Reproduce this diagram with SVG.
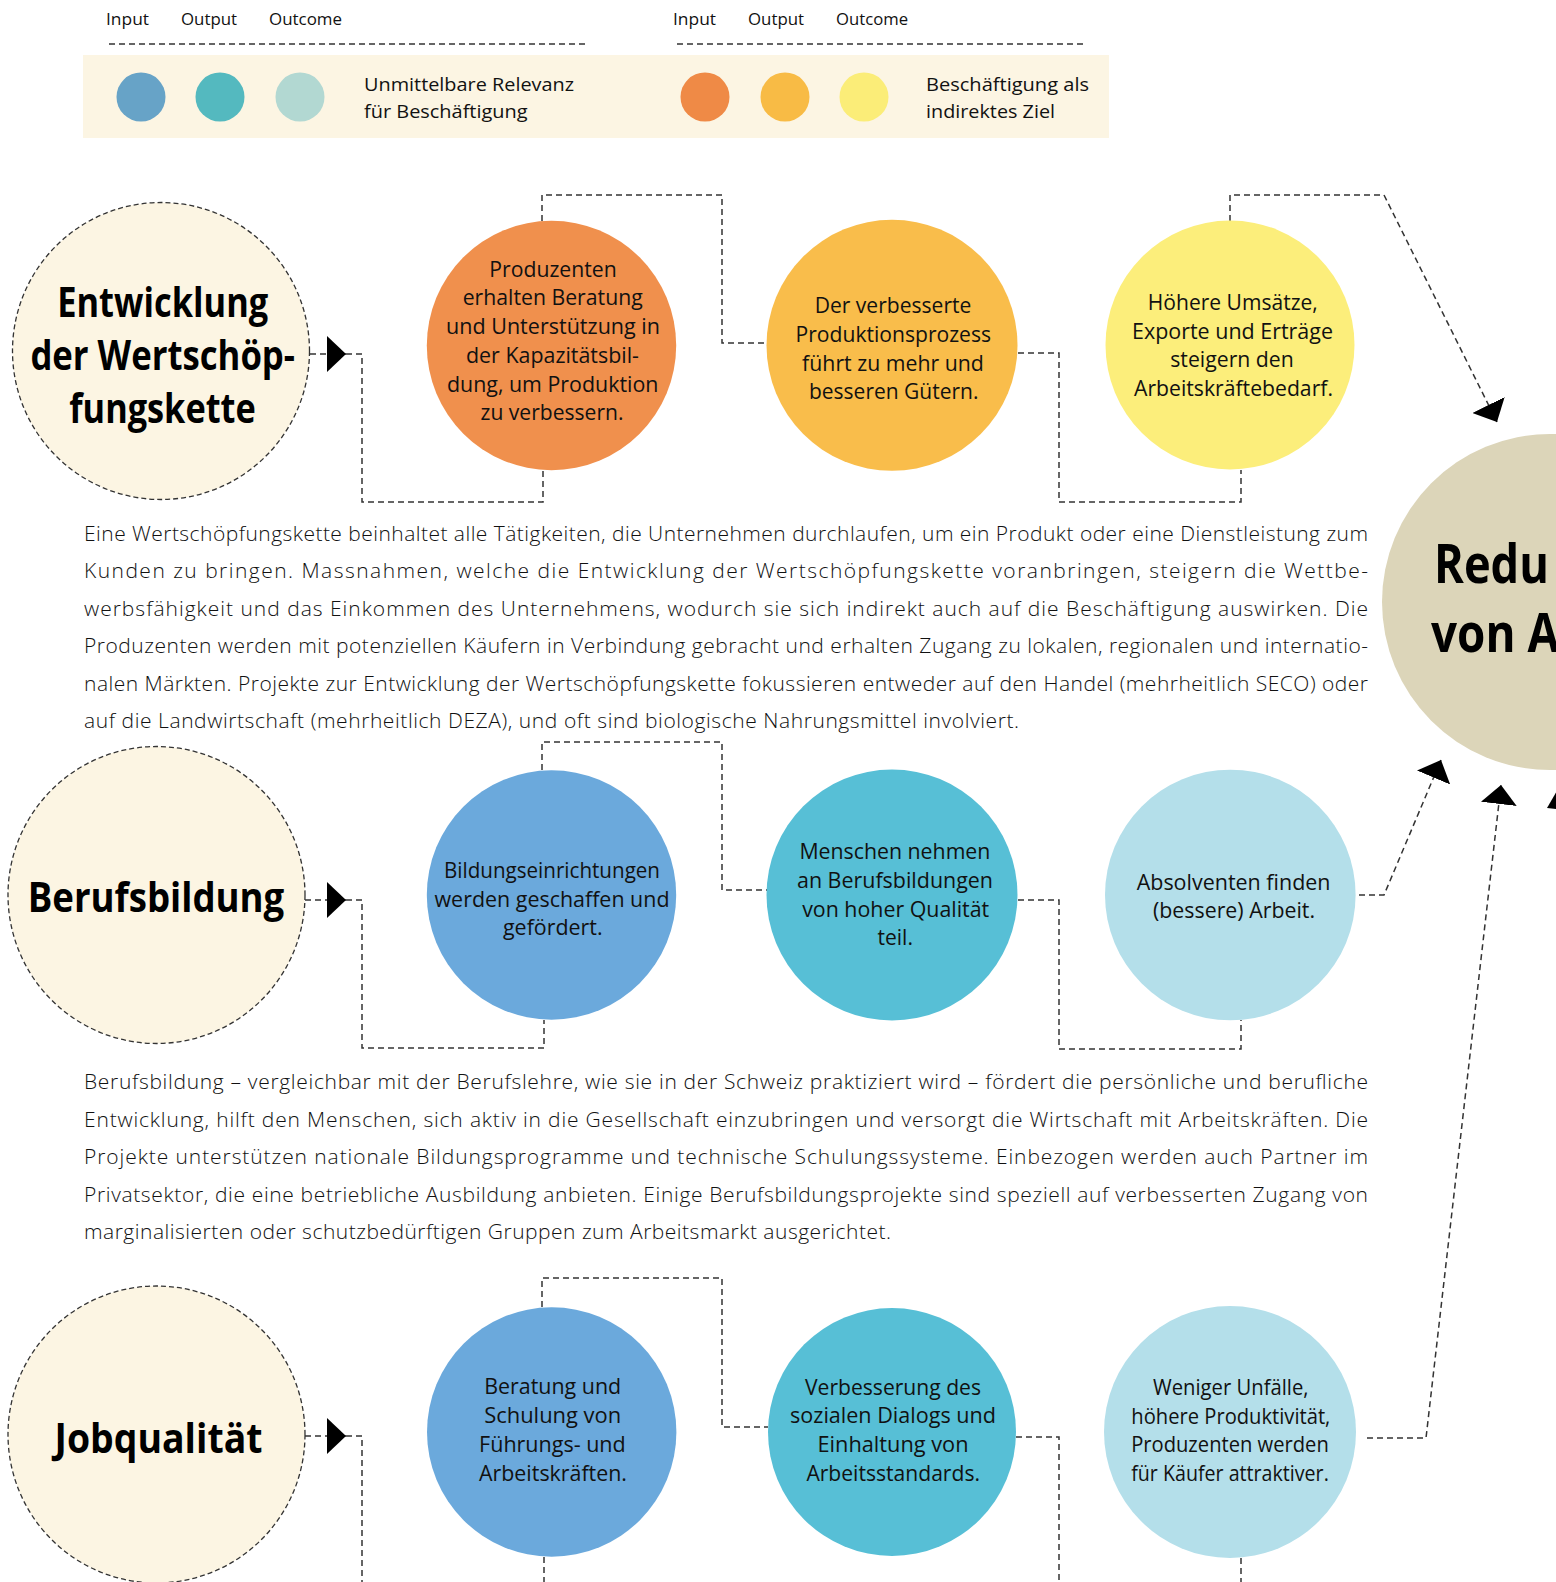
<svg xmlns="http://www.w3.org/2000/svg" width="1556" height="1582" viewBox="0 0 1556 1582">
<style>
  .hdr{font-family:"Open Sans","Noto Sans",sans-serif;font-size:16px;fill:#111}
  .leg{font-family:"Open Sans","Noto Sans",sans-serif;font-size:19px;fill:#111}
  .lbl{font-family:"Open Sans","Noto Sans",sans-serif;font-size:21px;fill:#111;text-anchor:middle}
  .ttl{font-family:"Open Sans","Noto Sans",sans-serif;font-size:41px;font-weight:700;fill:#000;text-anchor:middle}
  .big{font-family:"Open Sans","Noto Sans",sans-serif;font-size:54px;font-weight:700;fill:#000}
  .body{font-family:"Open Sans","Noto Sans",sans-serif;font-size:21px;font-weight:300;fill:#111}
  .con{fill:none;stroke:#333;stroke-width:1.5;stroke-dasharray:6 4}
  .topic{fill:#FCF5E3;stroke:#333;stroke-width:1.3;stroke-dasharray:5 3}
</style>
<defs>
  <marker id="arr" markerUnits="userSpaceOnUse" viewBox="0 0 19 36" refX="19" refY="18" markerWidth="19" markerHeight="36" orient="auto">
    <path d="M0,0 L19,18 L0,36 Z" fill="#000"/>
  </marker>
</defs>
<rect width="1556" height="1582" fill="#fff"/>

<g id="legend">
  <text class="hdr" x="106" y="25" textLength="43" lengthAdjust="spacingAndGlyphs">Input</text>
  <text class="hdr" x="181" y="25" textLength="56" lengthAdjust="spacingAndGlyphs">Output</text>
  <text class="hdr" x="269" y="25" textLength="73" lengthAdjust="spacingAndGlyphs">Outcome</text>
  <text class="hdr" x="673" y="25" textLength="43" lengthAdjust="spacingAndGlyphs">Input</text>
  <text class="hdr" x="748" y="25" textLength="56" lengthAdjust="spacingAndGlyphs">Output</text>
  <text class="hdr" x="836" y="25" textLength="72" lengthAdjust="spacingAndGlyphs">Outcome</text>
  <line class="con" x1="109" y1="44" x2="588" y2="44"/>
  <line class="con" x1="677" y1="44" x2="1086" y2="44"/>
  <rect x="83" y="55" width="1026" height="83" fill="#FCF5E3"/>
  <circle cx="141" cy="97" r="24.5" fill="#67A3C7"/>
  <circle cx="220" cy="97" r="24.5" fill="#54B9BF"/>
  <circle cx="300" cy="97" r="24.5" fill="#B2D8D2"/>
  <text class="leg" x="364" y="90.7" textLength="210" lengthAdjust="spacingAndGlyphs">Unmittelbare Relevanz</text>
  <text class="leg" x="364" y="118.3" textLength="163.6" lengthAdjust="spacingAndGlyphs">für Beschäftigung</text>
  <circle cx="705" cy="97" r="24.5" fill="#EF8A46"/>
  <circle cx="785" cy="97" r="24.5" fill="#F8BB45"/>
  <circle cx="864" cy="97" r="24.5" fill="#FBED78"/>
  <text class="leg" x="926" y="90.7" textLength="163" lengthAdjust="spacingAndGlyphs">Beschäftigung als</text>
  <text class="leg" x="926" y="118.3" textLength="129" lengthAdjust="spacingAndGlyphs">indirektes Ziel</text>
</g>

<g id="goal">
  <circle cx="1550" cy="602" r="168" fill="#DCD5B9"/>
  <text class="big" x="1434" y="583.3" textLength="115" lengthAdjust="spacingAndGlyphs">Redu</text>
  <text class="big" x="1431" y="651.7" textLength="128" lengthAdjust="spacingAndGlyphs">von A</text>
</g>

<g id="connectors">
  <path class="con" d="M310,354 H346" marker-end="url(#arr)"/>
  <path class="con" d="M346,354 H362 V502 H543 V470"/>
  <path class="con" d="M542,221 V195 H722 V343 H767"/>
  <path class="con" d="M1018,353 H1059 V502 H1241 V470"/>
  <path class="con" d="M1230,221 V195 H1384 L1497,422" marker-end="url(#arr)"/>

  <path class="con" d="M305,900 H346" marker-end="url(#arr)"/>
  <path class="con" d="M346,900 H362 V1048 H544 V1020"/>
  <path class="con" d="M542,770 V742 H722 V890 H767"/>
  <path class="con" d="M1018,900 H1059 V1049 H1241 V1020"/>
  <path class="con" d="M1359,895 H1384 L1441,760" marker-end="url(#arr)"/>

  <path class="con" d="M305,1436 H346" marker-end="url(#arr)"/>
  <path class="con" d="M346,1436 H362 V1582"/>
  <path class="con" d="M542,1307 V1278 H722 V1427 H768"/>
  <path class="con" d="M544,1557 V1582"/>
  <path class="con" d="M1016,1437 H1059 V1582"/>
  <path class="con" d="M1241,1558 V1582"/>
  <path class="con" d="M1367,1438 H1426 L1501,785" marker-end="url(#arr)"/>
  <polygon points="1547,808 1562,782 1580,812" fill="#000"/>
</g>

<g id="topic-wertschoepfung">
  <circle class="topic" cx="161" cy="351" r="148.5"/>
  <text class="ttl" x="162.7" y="316.7" textLength="211" lengthAdjust="spacingAndGlyphs">Entwicklung</text>
  <text class="ttl" x="162.7" y="370" textLength="264.6" lengthAdjust="spacingAndGlyphs">der Wertschöp-</text>
  <text class="ttl" x="162.5" y="422.7" textLength="186.4" lengthAdjust="spacingAndGlyphs">fungskette</text>
</g>

<g id="w-input">
  <circle cx="551.5" cy="345.5" r="124.7" fill="#F0904D"/>
  <text class="lbl" x="553" y="276.7" textLength="127.5" lengthAdjust="spacingAndGlyphs">Produzenten</text>
  <text class="lbl" x="552.7" y="305.3" textLength="180" lengthAdjust="spacingAndGlyphs">erhalten Beratung</text>
  <text class="lbl" x="553" y="334" textLength="214" lengthAdjust="spacingAndGlyphs">und Unterstützung in</text>
  <text class="lbl" x="552.5" y="362.7" textLength="173" lengthAdjust="spacingAndGlyphs">der Kapazitätsbil-</text>
  <text class="lbl" x="552.7" y="391.5" textLength="211.5" lengthAdjust="spacingAndGlyphs">dung, um Produktion</text>
  <text class="lbl" x="552" y="420" textLength="143" lengthAdjust="spacingAndGlyphs">zu verbessern.</text>
</g>

<g id="w-output">
  <circle cx="892" cy="345.3" r="125.5" fill="#F9BD4B"/>
  <text class="lbl" x="893" y="312.7" textLength="156.7" lengthAdjust="spacingAndGlyphs">Der verbesserte</text>
  <text class="lbl" x="893.3" y="341.7" textLength="195.5" lengthAdjust="spacingAndGlyphs">Produktionsprozess</text>
  <text class="lbl" x="893" y="370.5" textLength="181.8" lengthAdjust="spacingAndGlyphs">führt zu mehr und</text>
  <text class="lbl" x="893.7" y="399" textLength="169.4" lengthAdjust="spacingAndGlyphs">besseren Gütern.</text>
</g>

<g id="w-outcome">
  <circle cx="1230" cy="345" r="124.5" fill="#FCEE7B"/>
  <text class="lbl" x="1232.8" y="310" textLength="170" lengthAdjust="spacingAndGlyphs">Höhere Umsätze,</text>
  <text class="lbl" x="1232.5" y="339" textLength="201" lengthAdjust="spacingAndGlyphs">Exporte und Erträge</text>
  <text class="lbl" x="1232" y="367.3" textLength="123.5" lengthAdjust="spacingAndGlyphs">steigern den</text>
  <text class="lbl" x="1233.5" y="396" textLength="199" lengthAdjust="spacingAndGlyphs">Arbeitskräftebedarf.</text>
</g>

<g id="text-wertschoepfung">
  <text class="body" x="84" y="540.7" textLength="1284" lengthAdjust="spacing">Eine Wertschöpfungskette beinhaltet alle Tätigkeiten, die Unternehmen durchlaufen, um ein Produkt oder eine Dienstleistung zum</text>
  <text class="body" x="84" y="578.2" textLength="1284" lengthAdjust="spacing">Kunden zu bringen. Massnahmen, welche die Entwicklung der Wertschöpfungskette voranbringen, steigern die Wettbe-</text>
  <text class="body" x="84" y="615.7" textLength="1284" lengthAdjust="spacing">werbsfähigkeit und das Einkommen des Unternehmens, wodurch sie sich indirekt auch auf die Beschäftigung auswirken. Die</text>
  <text class="body" x="84" y="653.2" textLength="1284" lengthAdjust="spacing">Produzenten werden mit potenziellen Käufern in Verbindung gebracht und erhalten Zugang zu lokalen, regionalen und internatio-</text>
  <text class="body" x="84" y="690.7" textLength="1284" lengthAdjust="spacing">nalen Märkten. Projekte zur Entwicklung der Wertschöpfungskette fokussieren entweder auf den Handel (mehrheitlich SECO) oder</text>
  <text class="body" x="84" y="728.2" textLength="935" lengthAdjust="spacing">auf die Landwirtschaft (mehrheitlich DEZA), und oft sind biologische Nahrungsmittel involviert.</text>
</g>

<g id="topic-berufsbildung">
  <circle class="topic" cx="156.5" cy="895" r="148.5"/>
  <text class="ttl" x="156" y="911.7" textLength="256.6" lengthAdjust="spacingAndGlyphs">Berufsbildung</text>
</g>

<g id="b-input">
  <circle cx="551.5" cy="895" r="124.7" fill="#6BA9DC"/>
  <text class="lbl" x="552" y="877.7" textLength="216" lengthAdjust="spacingAndGlyphs">Bildungseinrichtungen</text>
  <text class="lbl" x="552" y="906.5" textLength="235" lengthAdjust="spacingAndGlyphs">werden geschaffen und</text>
  <text class="lbl" x="552.8" y="935" textLength="99.6" lengthAdjust="spacingAndGlyphs">gefördert.</text>
</g>

<g id="b-output">
  <circle cx="892" cy="895" r="125.5" fill="#57BFD6"/>
  <text class="lbl" x="894.9" y="859.3" textLength="191" lengthAdjust="spacingAndGlyphs">Menschen nehmen</text>
  <text class="lbl" x="895" y="888.3" textLength="196" lengthAdjust="spacingAndGlyphs">an Berufsbildungen</text>
  <text class="lbl" x="895.7" y="916.7" textLength="187" lengthAdjust="spacingAndGlyphs">von hoher Qualität</text>
  <text class="lbl" x="895.2" y="945" textLength="35.5" lengthAdjust="spacingAndGlyphs">teil.</text>
</g>

<g id="b-outcome">
  <circle cx="1230.3" cy="895" r="125.3" fill="#B4DFEA"/>
  <text class="lbl" x="1233.6" y="890" textLength="193.8" lengthAdjust="spacingAndGlyphs">Absolventen finden</text>
  <text class="lbl" x="1234" y="917.7" textLength="162" lengthAdjust="spacingAndGlyphs">(bessere) Arbeit.</text>
</g>

<g id="text-berufsbildung">
  <text class="body" x="84" y="1089" textLength="1284" lengthAdjust="spacing">Berufsbildung – vergleichbar mit der Berufslehre, wie sie in der Schweiz praktiziert wird – fördert die persönliche und berufliche</text>
  <text class="body" x="84" y="1126.5" textLength="1284" lengthAdjust="spacing">Entwicklung, hilft den Menschen, sich aktiv in die Gesellschaft einzubringen und versorgt die Wirtschaft mit Arbeitskräften. Die</text>
  <text class="body" x="84" y="1164" textLength="1284" lengthAdjust="spacing">Projekte unterstützen nationale Bildungsprogramme und technische Schulungssysteme. Einbezogen werden auch Partner im</text>
  <text class="body" x="84" y="1201.5" textLength="1284" lengthAdjust="spacing">Privatsektor, die eine betriebliche Ausbildung anbieten. Einige Berufsbildungsprojekte sind speziell auf verbesserten Zugang von</text>
  <text class="body" x="84" y="1239" textLength="807" lengthAdjust="spacing">marginalisierten oder schutzbedürftigen Gruppen zum Arbeitsmarkt ausgerichtet.</text>
</g>

<g id="topic-jobqualitaet">
  <circle class="topic" cx="156.5" cy="1434.5" r="148.5"/>
  <text class="ttl" x="158.5" y="1452.7" textLength="208" lengthAdjust="spacingAndGlyphs">Jobqualität</text>
</g>

<g id="j-input">
  <circle cx="551.7" cy="1432" r="124.7" fill="#6BA9DC"/>
  <text class="lbl" x="552.7" y="1394" textLength="137" lengthAdjust="spacingAndGlyphs">Beratung und</text>
  <text class="lbl" x="552.7" y="1423" textLength="137" lengthAdjust="spacingAndGlyphs">Schulung von</text>
  <text class="lbl" x="552.4" y="1451.7" textLength="146.6" lengthAdjust="spacingAndGlyphs">Führungs- und</text>
  <text class="lbl" x="553" y="1480.5" textLength="148" lengthAdjust="spacingAndGlyphs">Arbeitskräften.</text>
</g>

<g id="j-output">
  <circle cx="892" cy="1432" r="124" fill="#57BFD6"/>
  <text class="lbl" x="893" y="1395" textLength="176" lengthAdjust="spacingAndGlyphs">Verbesserung des</text>
  <text class="lbl" x="893" y="1423.3" textLength="206" lengthAdjust="spacingAndGlyphs">sozialen Dialogs und</text>
  <text class="lbl" x="893" y="1451.7" textLength="151" lengthAdjust="spacingAndGlyphs">Einhaltung von</text>
  <text class="lbl" x="893.2" y="1480.5" textLength="173.6" lengthAdjust="spacingAndGlyphs">Arbeitsstandards.</text>
</g>

<g id="j-outcome">
  <circle cx="1230" cy="1432" r="126" fill="#B4DFEA"/>
  <text class="lbl" x="1230.8" y="1395" textLength="155.6" lengthAdjust="spacingAndGlyphs">Weniger Unfälle,</text>
  <text class="lbl" x="1230.8" y="1424" textLength="199" lengthAdjust="spacingAndGlyphs">höhere Produktivität,</text>
  <text class="lbl" x="1230" y="1452.3" textLength="197.6" lengthAdjust="spacingAndGlyphs">Produzenten werden</text>
  <text class="lbl" x="1230" y="1480.7" textLength="197.6" lengthAdjust="spacingAndGlyphs">für Käufer attraktiver.</text>
</g>
</svg>
